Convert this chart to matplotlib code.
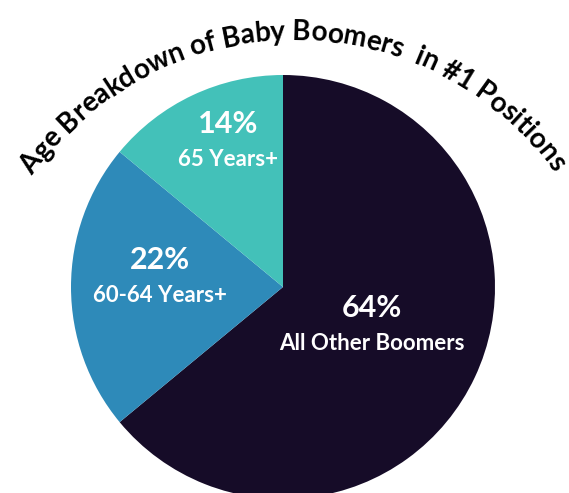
import matplotlib
matplotlib.use("Agg")
import matplotlib.pyplot as plt
import numpy as np
from matplotlib.font_manager import FontProperties

# data
shares = [64, 22, 14]
pct_labels = ["64%", "22%", "14%"]
group_labels = ["All Other Boomers", "60-64 Years+", "65 Years+"]
colors = ["#160c28", "#2e8ab9", "#43c1b9"]
title = "Age Breakdown of Baby Boomers  in #1 Positions"

FONT = "Lato"
W, H = 569, 493

fig = plt.figure(figsize=(W / 100, H / 100), dpi=100)
ax = fig.add_axes([0, 0, 1, 1])

# pie in pixel coordinates (y up)
cx, cy, r = 283, H - 287, 212
ax.pie(shares, colors=colors, startangle=90, counterclock=False,
       center=(cx, cy), radius=r, wedgeprops=dict(linewidth=0))
ax.set_xlim(0, W)
ax.set_ylim(0, H)
ax.set_aspect("equal")
ax.axis("off")

# slice labels (pixel positions, from top)
label_pos = [(372, 308), (160, 260), (228, 124)]
for (x, y), pct, grp in zip(label_pos, pct_labels, group_labels):
    ax.text(x, H - y, pct, color="white", fontsize=22, fontweight="bold",
            family=FONT, ha="center", va="center")
    ax.text(x, H - y - 36, grp, color="white", fontsize=16, fontweight="bold",
            family=FONT, ha="center", va="center")

# curved title along an arc
fp = FontProperties(family=FONT, weight="bold", size=20)
renderer = fig.canvas.get_renderer()


def _w(s):
    return renderer.get_text_width_height_descent(s, fp, ismath=False)[0]


base = _w("xx")
widths = np.array([_w("x" + ch + "x") - base for ch in title])
arc_cx, arc_cy, arc_r = 294, H - 359, 327
span = np.radians(106.5) * arc_r          # first to last char centre
centres = np.cumsum(widths) - widths / 2
centres = (centres - centres[0]) * span / (centres[-1] - centres[0]) - span / 2
for ch, s in zip(title, centres):
    th = s / arc_r
    ax.text(arc_cx + arc_r * np.sin(th), arc_cy + arc_r * np.cos(th), ch,
            fontproperties=fp, color="black", ha="center", va="center",
            rotation=-np.degrees(th), rotation_mode="anchor")

fig.savefig("out.png", dpi=100)
